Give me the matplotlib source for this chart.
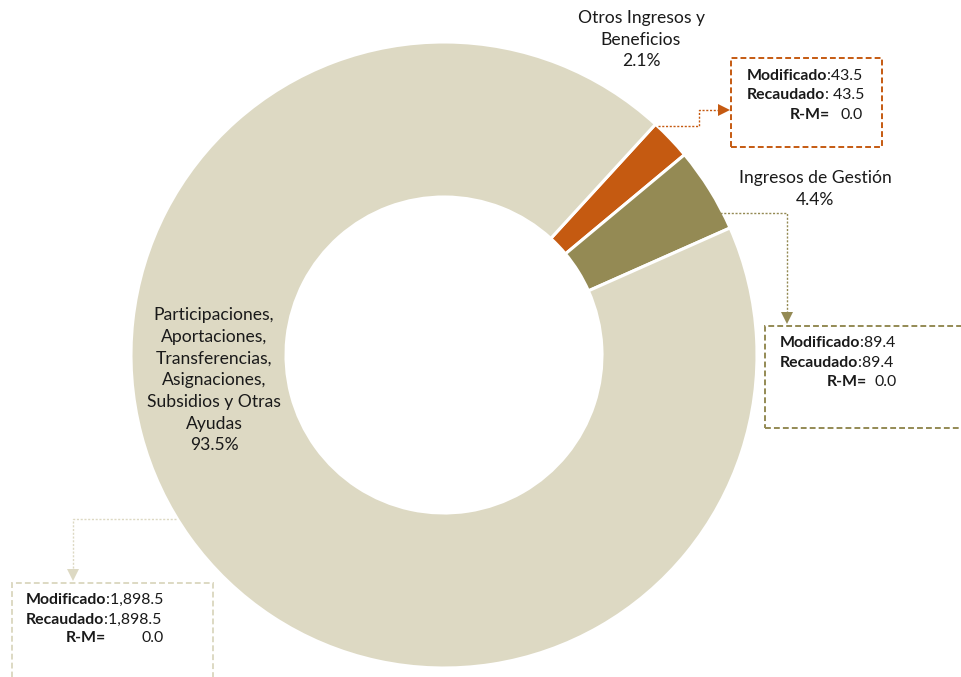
import numpy as np
import matplotlib
matplotlib.use("Agg")
import matplotlib.pyplot as plt
from matplotlib.patches import Rectangle

plt.rcParams["font.family"] = ["Lato", "DejaVu Sans"]

# data (millions)
categories = [
    "Otros Ingresos y\nBeneficios",
    "Ingresos de Gestión",
    "Participaciones,\nAportaciones,\nTransferencias,\nAsignaciones,\nSubsidios y Otras\nAyudas",
]
modificado = [43.5, 89.4, 1898.5]
recaudado = [43.5, 89.4, 1898.5]
colors = ["#C55A11", "#948A54", "#DDD9C3"]

W, H = 961, 677
TXT = "#1a1a1a"


def Y(y):
    # pixel row (from top) -> data y
    return H - y


fig = plt.figure(figsize=(W / 100, H / 100), dpi=100)
ax = fig.add_axes([0, 0, 1, 1])

cx, cy, R, r_in = 444, Y(355), 313, 158
wedges, _ = ax.pie(
    modificado, colors=colors, startangle=47.5, counterclock=False,
    radius=R, center=(cx, cy), explode=[0.028, 0.03, 0.0],
    wedgeprops=dict(width=R - r_in, edgecolor="white", linewidth=2.2),
)
ax.set_xlim(0, W)
ax.set_ylim(0, H)
ax.set_aspect("equal")
ax.axis("off")

total = sum(modificado)
pcts = [v / total * 100 for v in modificado]

# category labels
label_pos = [(641, 18), (815, 178), (214, 315)]
for cat, p, (lx, ly) in zip(categories, pcts, label_pos):
    lines = (cat + f"\n{p:.1f}%").split("\n")
    for i, line in enumerate(lines):
        ax.text(lx, Y(ly + i * 21.7), line, ha="center", va="center",
                fontsize=12.6, color=TXT)


def wedge_point(w, ang, extra=0.0):
    a = np.deg2rad(ang)
    x0, y0 = w.center
    return x0 + (w.r + extra) * np.cos(a), y0 + (w.r + extra) * np.sin(a)


def arrow_path(pts, color, tip_marker):
    xs, ys = zip(*pts)
    ax.plot(xs, ys, color=color, lw=1.0, ls=(0, (1.5, 1.2)))
    ax.plot([xs[-1]], [ys[-1]], marker=tip_marker, color=color, ms=8, mew=0)


# connectors
w_o, w_g, w_p = wedges
sx, sy = wedge_point(w_o, w_o.theta2 - 0.6)
arrow_path([(sx, sy), (699, sy), (699, Y(110)), (724, Y(110))], colors[0], ">")
sx, sy = wedge_point(w_g, w_g.theta1 + 3.0, -3)
arrow_path([(sx, Y(213)), (787, Y(213)), (787, Y(318))], colors[1], "v")
sx, sy = wedge_point(w_p, 211.0)
arrow_path([(sx, Y(519)), (73, Y(519)), (73, Y(575))], colors[2], "v")

# boxes
boxes = [
    dict(rect=(731, 58, 882, 147), lab_x=747, val_x=863, rm_x=830, ys=(76, 95, 115), sep=" "),
    dict(rect=(765, 326, 990, 428), lab_x=780, val_x=897, rm_x=867, ys=(343, 363, 382), sep=""),
    dict(rect=(12, 583, 213, 700), lab_x=26, val_x=164, rm_x=106, ys=(600, 620, 638), sep=""),
]
renderer = fig.canvas.get_renderer()
FS = 11.4


def label_value(x, y, label, value):
    t = ax.text(x, y, label, ha="left", va="center", fontsize=FS,
                fontweight="bold", color=TXT)
    x_end = t.get_window_extent(renderer).x1
    ax.text(x_end, y, value, ha="left", va="center", fontsize=FS, color=TXT)


for b, col, m, rc in zip(boxes, colors, modificado, recaudado):
    x0, y0, x1, y1 = b["rect"]
    ax.add_patch(Rectangle((x0, Y(y1)), x1 - x0, y1 - y0, fill=False,
                           edgecolor=col, lw=1.4, ls=(0, (3, 1.6)), clip_on=True))
    ya, yb, yc = b["ys"]
    label_value(b["lab_x"], Y(ya), "Modificado", f":{m:,.1f}")
    label_value(b["lab_x"], Y(yb), "Recaudado", f":{b['sep']}{rc:,.1f}")
    ax.text(b["rm_x"], Y(yc), "R-M=", ha="right", va="center",
            fontsize=FS, fontweight="bold", color=TXT)
    ax.text(b["val_x"], Y(yc), f"{rc - m:,.1f}", ha="right", va="center",
            fontsize=FS, color=TXT)

fig.savefig("out.png", dpi=100)
